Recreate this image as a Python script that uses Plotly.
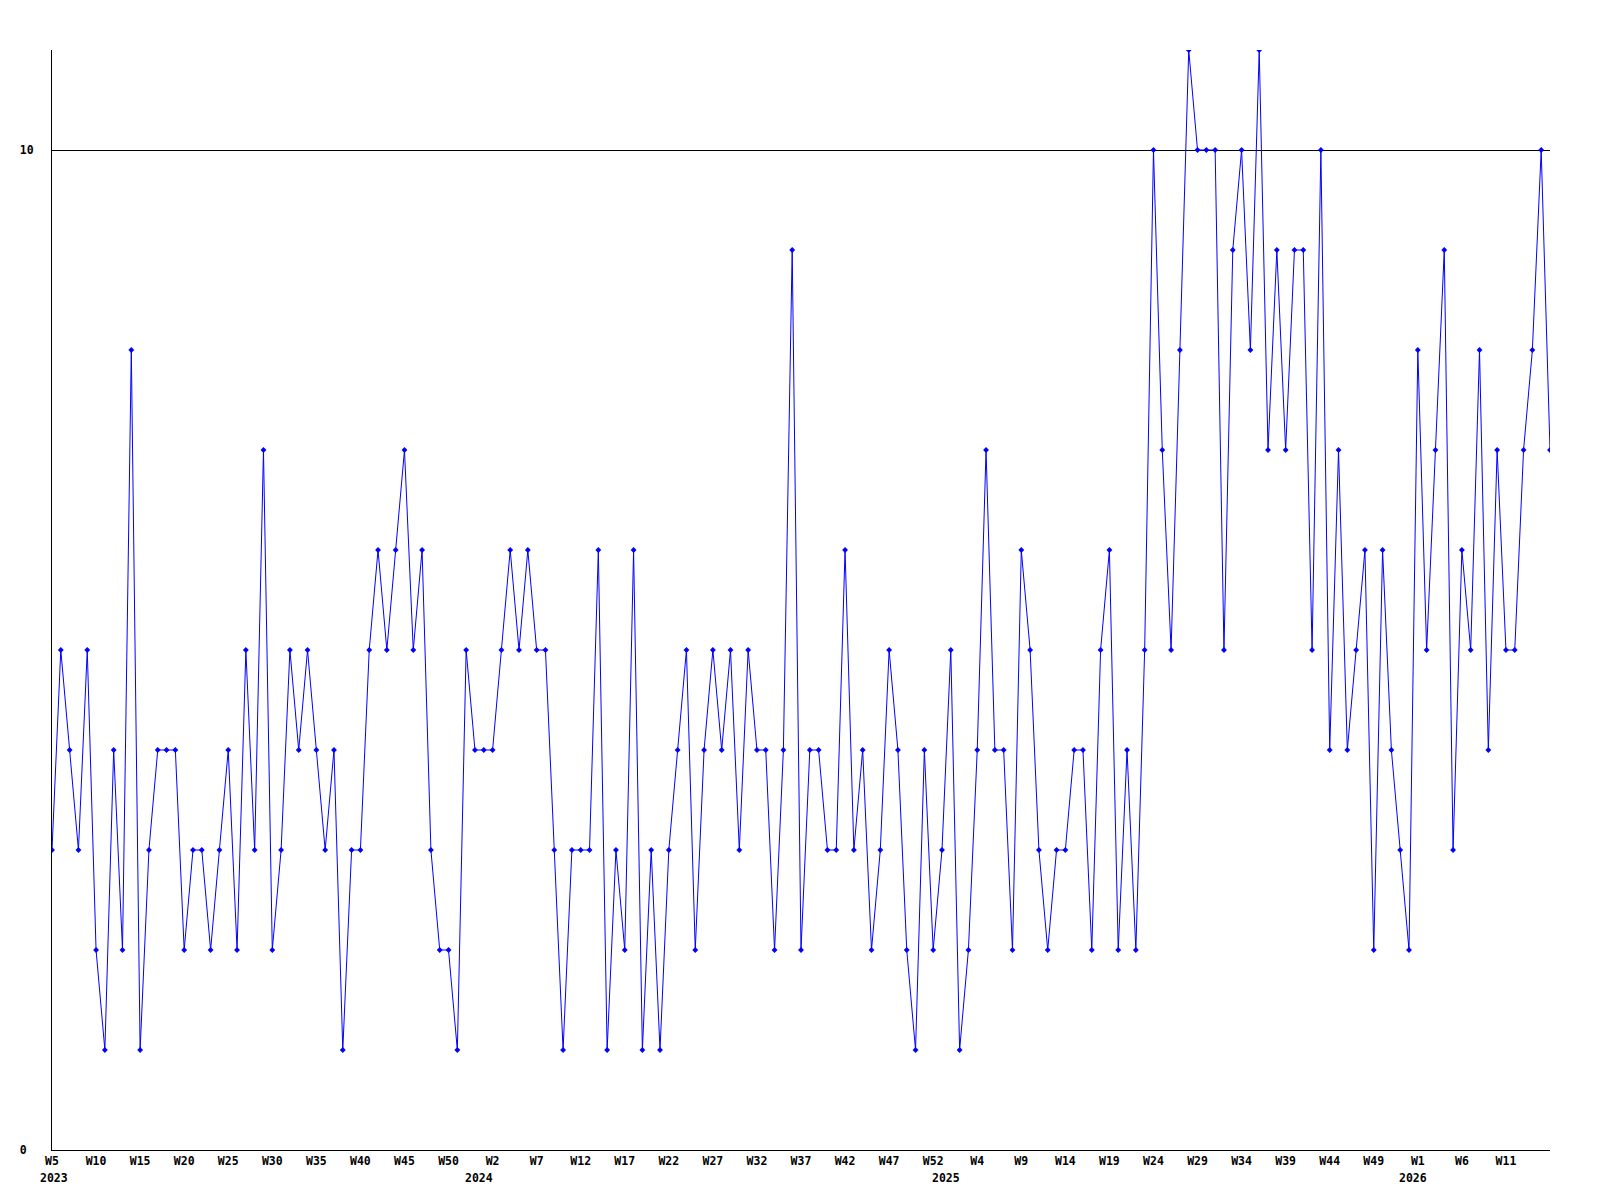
import plotly.graph_objects as go

# weekly counts, one per week starting 2023 W5
values = [3, 5, 4, 3, 5, 2, 1, 4, 2, 8, 1, 3, 4, 4, 4, 2, 3, 3, 2, 3, 4, 2,
          5, 3, 7, 2, 3, 5, 4, 5, 4, 3, 4, 1, 3, 3, 5, 6, 5, 6, 7, 5, 6,
          3, 2, 2, 1, 5, 4, 4, 4, 5, 6, 5, 6, 5, 5, 3, 1, 3, 3, 3, 6, 1,
          3, 2, 6, 1, 3, 1, 3, 4, 5, 2, 4, 5, 4, 5, 3, 5, 4, 4, 2, 4, 9,
          2, 4, 4, 3, 3, 6, 3, 4, 2, 3, 5, 4, 2, 1, 4, 2, 3, 5, 1, 2, 4,
          7, 4, 4, 2, 6, 5, 3, 2, 3, 3, 4, 4, 2, 5, 6, 2, 4, 2, 5, 10, 7,
          5, 8, 11, 10, 10, 10, 5, 9, 10, 8, 11, 7, 9, 7, 9, 9, 5, 10, 4, 7,
          4, 5, 6, 2, 6, 4, 3, 2, 8, 5, 7, 9, 3, 6, 5, 8, 4, 7, 5, 5, 7, 8, 10, 7]

first_year = 2023
first_week = 5
weeks_per_year = 53
label_every = 5

# build year/week for every point
point_years = []
point_weeks = []
y, w = first_year, first_week
for _ in values:
    point_years.append(y)
    point_weeks.append(w)
    w += 1
    if w > weeks_per_year:
        w = 1
        y += 1

xs = list(range(len(values)))
# last point gets no label
tick_vals = [i for i in xs[::label_every] if i < len(values) - 1]
tick_text = ["W%d" % point_weeks[i] for i in tick_vals]

FONT = "DejaVu Sans Mono"

fig = go.Figure()
fig.add_trace(go.Scatter(
    x=xs, y=values, mode="lines+markers",
    line=dict(color="#0000ff", width=1),
    marker=dict(color="#0000ff", size=4.5, symbol="diamond"),
    showlegend=False))

# year labels
annotations = []
for i, yr in enumerate(point_years):
    if i == 0:
        annotations.append(dict(x=0, y=0, xref="x", yref="paper", text="<b>%d</b>" % yr,
                                showarrow=False, xanchor="left", yanchor="middle",
                                xshift=-14, yshift=-28))
    elif yr != point_years[i - 1]:
        annotations.append(dict(x=i - 0.5, y=0, xref="x", yref="paper", text="<b>%d</b>" % yr,
                                showarrow=False, xanchor="center", yanchor="middle",
                                yshift=-28))

# page body adds 8px, so margins are shifted to compensate
fig.update_layout(
    width=1600, height=1200,
    margin=dict(l=42, r=58, t=42, b=58),
    paper_bgcolor="white", plot_bgcolor="white",
    font=dict(family=FONT, size=11.5, color="black", weight="bold"),
    annotations=annotations,
    xaxis=dict(range=[0, len(values) - 1], tickvals=tick_vals, ticktext=tick_text,
               showgrid=False, zeroline=False, showline=True, linecolor="black",
               linewidth=1, ticks="", tickfont=dict(family=FONT, size=11.5, weight="bold")),
    yaxis=dict(range=[0, 11], tickvals=[0, 10], ticktext=["0\u00a0", "10"],
               showgrid=True, gridcolor="black", gridwidth=1, zeroline=False,
               showline=True, linecolor="black", linewidth=1, ticks="",
               ticklabelstandoff=15,
               tickfont=dict(family=FONT, size=11.5, weight="bold")),
)

fig.write_html("out.html")
